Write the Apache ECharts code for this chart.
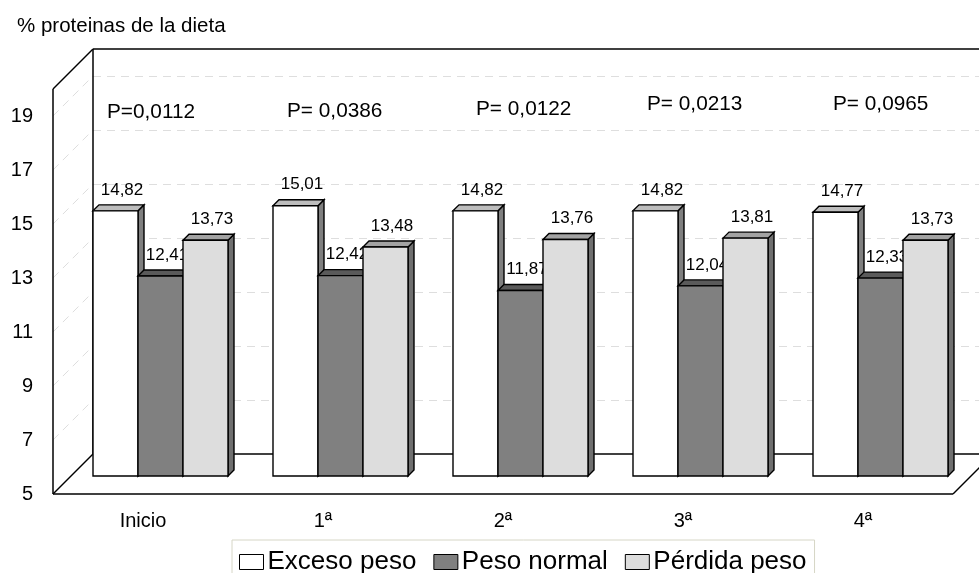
<!DOCTYPE html>
<html>
<head>
<meta charset="utf-8">
<style>html,body{margin:0;padding:0;background:#fff;overflow:hidden}#c{width:979px;height:573px}</style>
<script src="https://cdn.jsdelivr.net/npm/echarts@6/dist/echarts.min.js"></script>
</head>
<body>
<div id="c"></div>
<script>
var categories = ['Inicio', '1ª', '2ª', '3ª', '4ª'];
var excesoPeso = [14.82, 15.01, 14.82, 14.82, 14.77];
var pesoNormal = [12.41, 12.42, 11.87, 12.04, 12.33];
var perdidaPeso = [13.73, 13.48, 13.76, 13.81, 13.73];
var yTicks = [5, 7, 9, 11, 13, 15, 17, 19];
var pLabels = ['P=0,0112', 'P= 0,0386', 'P= 0,0122', 'P= 0,0213', 'P= 0,0965'];
var pLeft = [107, 287, 476, 647, 833];
var pMiddle = [112, 111, 109, 104, 104];

var FONT = '"Liberation Sans", Arial, Helvetica, sans-serif';
var WALL = 40, FLOOR = 18, BAR = 6;
var YMIN = 5, YMAX = 20;

function fmt(v) { return v.toFixed(2).replace('.', ','); }

function barSeries(name, values, seriesIdx, front, top, side) {
  return {
    type: 'custom', name: name, coordinateSystem: 'cartesian2d',
    itemStyle: { color: front, borderColor: '#000', borderWidth: 1 },
    clip: false,
    encode: { x: 0, y: 1 },
    data: values.map(function (v, i) { return [i, v]; }),
    renderItem: function (params, api) {
      var cat = api.value(0), val = api.value(1);
      var band = api.size([1, 0])[0];
      var w = band * 0.25;
      var c = api.coord([cat, val]);
      var b = api.coord([cat, YMIN]);
      var x0 = c[0] - band * 0.375 + seriesIdx * w + FLOOR - 0.5;
      var x1 = x0 + w;
      var yT = c[1] - FLOOR, yB = b[1] - FLOOR;
      var ln = { stroke: '#000', lineWidth: 1.4, lineJoin: 'miter' };
      return {
        type: 'group',
        children: [
          { type: 'polygon', shape: { points: [[x1, yT], [x1 + BAR, yT - BAR], [x1 + BAR, yB - BAR], [x1, yB]] },
            style: Object.assign({ fill: side }, ln) },
          { type: 'polygon', shape: { points: [[x0, yT], [x0 + BAR, yT - BAR], [x1 + BAR, yT - BAR], [x1, yT]] },
            style: Object.assign({ fill: top }, ln) },
          { type: 'rect', shape: { x: x0, y: yT, width: w, height: yB - yT },
            style: Object.assign({ fill: front }, ln) },
          { type: 'text', x: (x0 + x1) / 2 + BAR + 0.5, y: yT - 21,
            style: { text: fmt(val), fill: '#000', font: '17px ' + FONT, textAlign: 'center', textVerticalAlign: 'middle' } }
        ]
      };
    }
  };
}

var wallSeries = {
  type: 'custom', name: 'walls', coordinateSystem: 'cartesian2d', silent: true, clip: false,
  encode: { x: 0, y: 1 },
  data: [[0, YMIN]],
  renderItem: function (params, api) {
    var band = api.size([1, 0])[0];
    var xL = api.coord([0, YMIN])[0] - band / 2;
    var xR = api.coord([categories.length - 1, YMIN])[0] + band / 2;
    var yF = api.coord([0, YMIN])[1];
    var yT = api.coord([0, YMAX])[1];
    var grid = { stroke: '#dedede', lineWidth: 1, lineDash: [8, 6] };
    var ln = { stroke: '#000', lineWidth: 1.5 };
    var kids = [];
    yTicks.forEach(function (t) {
      if (t === YMIN) return;
      var y = api.coord([0, t])[1];
      kids.push({ type: 'line', shape: { x1: xL, y1: y, x2: xL + WALL, y2: y - WALL }, style: grid });
      kids.push({ type: 'line', shape: { x1: xL + WALL, y1: y - WALL + 0.5, x2: xR + WALL, y2: y - WALL + 0.5 }, style: grid });
    });
    var segs = [
      [xL, yF, xR, yF], [xR, yF, xR + WALL, yF - WALL], [xL + WALL, yF - WALL, xR + WALL, yF - WALL],
      [xL, yF, xL + WALL, yF - WALL], [xL, yF, xL, yT], [xL, yT, xL + WALL, yT - WALL],
      [xL + WALL, yF - WALL, xL + WALL, yT - WALL], [xL + WALL, yT - WALL, xR + WALL, yT - WALL]
    ];
    segs.forEach(function (s) {
      kids.push({ type: 'line', shape: { x1: s[0], y1: s[1], x2: s[2], y2: s[3] }, style: ln });
    });
    return { type: 'group', children: kids };
  }
};

var graphics = [{
  type: 'text', left: 17, top: 16,
  style: { text: '% proteinas de la dieta', fill: '#000', font: '20.5px ' + FONT }
}];
pLabels.forEach(function (t, i) {
  graphics.push({ type: 'text', x: pLeft[i], y: pMiddle[i], z: 50,
    style: { text: t, fill: '#000', font: '20.8px ' + FONT, textAlign: 'left', textVerticalAlign: 'middle' } });
});

var chart = echarts.init(document.getElementById('c'), null, { renderer: 'canvas' });
chart.setOption({
  animation: false,
  backgroundColor: '#fff',
  grid: { left: 53, right: 26, top: 89, bottom: 79, containLabel: false },
  xAxis: {
    type: 'category', data: categories,
    axisLine: { show: false }, axisTick: { show: false }, splitLine: { show: false },
    axisLabel: { color: '#000', fontFamily: FONT, fontSize: 20, margin: 17 }
  },
  yAxis: {
    type: 'value', min: YMIN, max: YMAX, interval: 2,
    axisLine: { show: false }, axisTick: { show: false }, splitLine: { show: false },
    axisLabel: { color: '#000', fontFamily: FONT, fontSize: 20, margin: 20, padding: [5, 0, 0, 0],
      formatter: function (v) { return yTicks.indexOf(v) >= 0 ? String(v) : ''; } }
  },
  legend: {
    left: 232, top: 540, orient: 'horizontal',
    data: ['Exceso peso', 'Peso normal', 'Pérdida peso'],
    backgroundColor: '#fff', borderColor: '#d6d6c6', borderWidth: 1,
    padding: [9, 8, 12, 7], itemGap: 17, itemWidth: 24, itemHeight: 15, icon: 'rect',
    textStyle: { color: '#000', fontFamily: FONT, fontSize: 26, padding: [0, 0, 0, -1] },
    itemStyle: { borderColor: '#000', borderWidth: 1 }
  },
  graphic: graphics,
  series: [
    wallSeries,
    barSeries('Exceso peso', excesoPeso, 0, '#ffffff', '#bdbdbd', '#7f7f7f'),
    barSeries('Peso normal', pesoNormal, 1, '#808080', '#5a5a5a', '#5a5a5a'),
    barSeries('Pérdida peso', perdidaPeso, 2, '#dddddd', '#a3a3a3', '#6f6f6f')
  ]
});
</script>
</body>
</html>
